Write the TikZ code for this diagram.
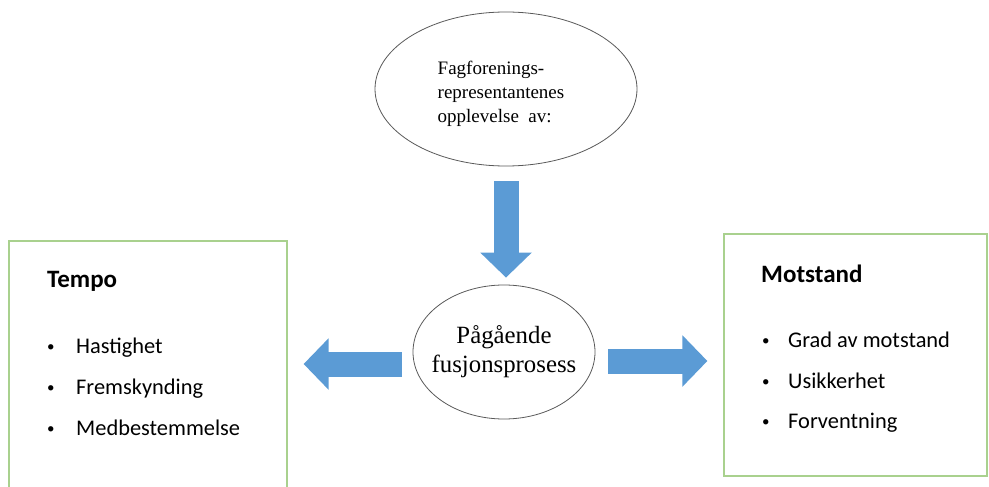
\documentclass[tikz,border=0pt]{standalone}
\usepackage{fontspec}
\setmainfont{Liberation Serif}
\newfontfamily\bodyfont{Carlito}
\usetikzlibrary{shapes.geometric,arrows.meta}

\definecolor{fatblue}{HTML}{5B9BD5}
\definecolor{boxgreen}{HTML}{A9D18E}
\definecolor{rimgray}{HTML}{595959}

\tikzset{
  oval/.style={ellipse, draw=rimgray, line width=0.8pt, inner sep=0pt},
  box/.style={rectangle, draw=boxgreen, line width=1.2pt},
  title/.style={font=\bodyfont\bfseries\fontsize{25}{29}\selectfont, inner sep=0pt, anchor=base west},
  item/.style={font=\bodyfont\fontsize{22.4}{27}\selectfont, inner sep=0pt, anchor=base west},
  dot/.style={font=\bodyfont\fontsize{15}{18}\selectfont, inner sep=0pt, anchor=base west},
  fat/.style={fatblue, line width=25pt, -{Triangle[width=50pt,length=25pt]}}
}

\begin{document}
\begin{tikzpicture}[x=1pt,y=-1pt]
    \clip (0,0) rectangle (989,487);

    % ellipses
    \node[oval, minimum width=262pt, minimum height=154pt] (fagforening) at (506,89) {};
    \node[align=left, font=\fontsize{19}{24}\selectfont] (fagforeningtext)
          at ([xshift=-5pt,yshift=-5pt]fagforening.center)
          {Fagforenings-\\representantenes\\opplevelse\ \ av:};
    \node[oval, minimum width=182pt, minimum height=134pt] (fusjon) at (504,352) {};
    \node[align=center, font=\fontsize{24.8}{29}\selectfont] (fusjontext) at (fusjon.center)
          {Pågående\\fusjonsprosess};

    % boxes
    \node[box, minimum width=278pt, minimum height=259pt] (tempo) at (148,370.5) {};
    \node[box, minimum width=263pt, minimum height=242pt] (motstand) at (855.5,355) {};

    % arrows
    \coordinate (dtail) at ([yshift=-15pt]fagforening.south);
    \coordinate (ltail) at ([xshift=-11pt,yshift=-12pt]fusjon.west);
    \coordinate (rtail) at ([xshift=13pt,yshift=-9pt]fusjon.east);
    \draw[fat, shorten >=7pt] (dtail) -- (dtail |- fusjon.north);
    \draw[fat, shorten >=16pt] (ltail) -- (ltail -| tempo.east);
    \draw[fat, shorten >=16pt] (rtail) -- (rtail -| motstand.west);

    % box texts
    \node[title] (tempotitle) at (47,287) {Tempo};
    \foreach \i/\txt/\yy in {1/Hastighet/353, 2/Fremskynding/394, 3/Medbestemmelse/435} {
        \node[dot] (tempobullet\i) at (47,\yy-2) {\textbullet};
        \node[item] (tempoitem\i) at (76,\yy) {\txt};
    }
    \node[title] (motstandtitle) at (761,282) {Motstand};
    \foreach \i/\txt/\yy in {1/Grad av motstand/347, 2/Usikkerhet/388, 3/Forventning/428} {
        \node[dot] (motstandbullet\i) at (762,\yy-2) {\textbullet};
        \node[item] (motstanditem\i) at (788,\yy) {\txt};
    }
\end{tikzpicture}
\end{document}
